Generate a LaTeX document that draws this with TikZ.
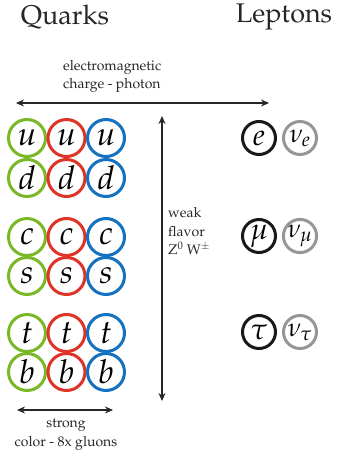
\documentclass[tikz,border=0pt]{standalone}
\usepackage[T1]{fontenc}
\usepackage{mathpazo}
\usetikzlibrary{arrows.meta}
\definecolor{qgreen}{RGB}{122,184,40}
\definecolor{qred}{RGB}{222,52,40}
\definecolor{qblue}{RGB}{20,114,190}
\definecolor{lgray}{RGB}{150,150,150}
\definecolor{lblack}{RGB}{25,25,25}
\begin{document}
\begin{tikzpicture}[x=1pt,y=-1pt,
  quark/.style={circle, draw, line width=3pt, minimum size=37pt, inner sep=0pt,
    font=\fontsize{33}{33}\selectfont},
  lepton/.style={circle, draw, line width=3pt, minimum size=33pt, inner sep=0pt,
    font=\fontsize{30}{30}\selectfont},
  neutrino/.style={lepton, font=\fontsize{26}{26}\selectfont},
  force/.style={{Stealth[length=8pt,width=7pt]}-{Stealth[length=8pt,width=7pt]}, line width=1.4pt, draw=black!85},
  title/.style={font=\fontsize{27}{27}\selectfont, text=black!85},
  lbl/.style={font=\fontsize{14}{18.5}\selectfont, text=black!85, inner sep=0pt}]
\useasboundingbox (0,0) rectangle (345,450);

\node[title] (quarks) at (65,17) {Quarks};
\node[title] (leptons) at (284,17) {Leptons};

% quarks
\foreach \lab/\yy [count=\i] in {u/138,d/178,c/237,s/276,t/333,b/372}{
  \node[quark, draw=qgreen] (g\i) at (27,\yy) {$\lab$};
  \node[quark, draw=qred]   (r\i) at (66.5,\yy) {$\lab$};
  \node[quark, draw=qblue]  (b\i) at (106,\yy) {$\lab$};
}

% leptons
\node[lepton, draw=lblack] (e) at (259,138) {$e$};
\node[neutrino, draw=lgray] (ne) at (300,138) {$\nu_e$};
\node[lepton, draw=lblack] (mu) at (259,236) {$\mu$};
\node[neutrino, draw=lgray] (nmu) at (300,236) {$\nu_\mu$};
\node[lepton, draw=lblack] (tau) at (259,332) {$\tau$};
\node[neutrino, draw=lgray] (ntau) at (300,332) {$\nu_\tau$};

% forces
\coordinate (emL) at (16,103);
\coordinate (emR) at (269,103);
\draw[force] (emL) -- (emR);
\node[lbl, align=left, anchor=south west] (em) at (63,93) {electromagnetic\\charge - photon};

\coordinate (wkT) at (162,116);
\coordinate (wkB) at (162,401);
\draw[force] (wkT) -- (wkB);
\node[lbl, align=left, anchor=west] (wk) at (168,231) {weak\\flavor\\Z\textsuperscript{0} W\textsuperscript{\(\pm\)}};

\coordinate (stL) at (17,410);
\coordinate (stR) at (113,410);
\draw[force] (stL) -- (stR);
\node[lbl, align=center, anchor=north] (st) at (66,419) {strong\\color - 8x gluons};
\end{tikzpicture}
\end{document}
